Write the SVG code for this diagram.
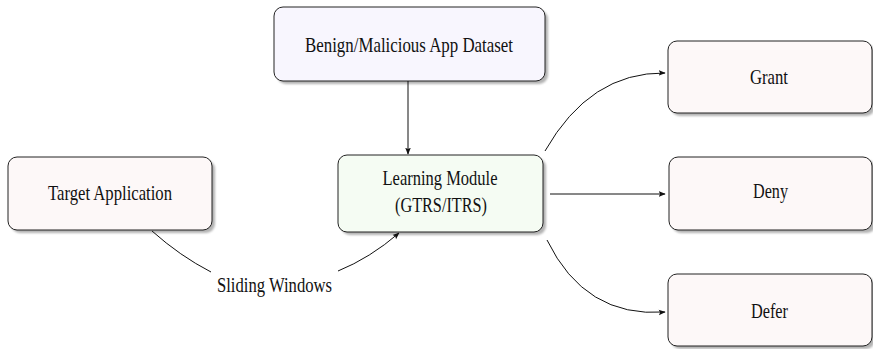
<svg xmlns="http://www.w3.org/2000/svg" width="873" height="349" viewBox="0 0 873 349">
  <style>
    .box { stroke: #222; stroke-width: 1; }
    .shadow { fill: #9a9a9a; opacity: 0.75; filter: url(#soft); }
    .label { font-family: "Liberation Serif", "DejaVu Serif", serif; font-size: 21px; fill: #111; text-anchor: middle; }
    .edge { fill: none; stroke: #111; stroke-width: 1; marker-end: url(#arrow); }
    .edge-plain { fill: none; stroke: #111; stroke-width: 1; }
  </style>
  <defs>
    <filter id="soft" x="-10%" y="-10%" width="120%" height="130%">
      <feGaussianBlur stdDeviation="1"/>
    </filter>
    <marker id="arrow" viewBox="0 0 10 10" refX="9" refY="5" markerWidth="7" markerHeight="7" markerUnits="userSpaceOnUse" orient="auto">
      <path d="M0,1 L10,5 L0,9 L2,5 Z" fill="#111"/>
    </marker>
  </defs>
  <rect width="873" height="349" fill="#ffffff"/>

  <!-- nodes (labels use a condensed serif via textLength) -->
  <g id="dataset">
    <rect class="shadow" x="277" y="10" width="271" height="74" rx="9"/>
    <rect class="box" x="274" y="7" width="271" height="74" rx="9" fill="#f8f6fe"/>
    <text class="label" x="409" y="51.5" textLength="208" lengthAdjust="spacingAndGlyphs">Benign/Malicious App Dataset</text>
  </g>
  <g id="learning">
    <rect class="shadow" x="341" y="158" width="205" height="77" rx="9"/>
    <rect class="box" x="338" y="155" width="205" height="77" rx="9" fill="#f5fcf3"/>
    <text class="label" x="440" y="185" textLength="115" lengthAdjust="spacingAndGlyphs">Learning Module</text>
    <text class="label" x="441" y="212" textLength="92" lengthAdjust="spacingAndGlyphs">(GTRS/ITRS)</text>
  </g>
  <g id="target">
    <rect class="shadow" x="11" y="160" width="204" height="73" rx="9"/>
    <rect class="box" x="8" y="157" width="204" height="73" rx="9" fill="#fdf8f8"/>
    <text class="label" x="110" y="200" textLength="124" lengthAdjust="spacingAndGlyphs">Target Application</text>
  </g>
  <g id="grant">
    <rect class="shadow" x="671" y="44" width="204" height="72" rx="9"/>
    <rect class="box" x="668" y="41" width="204" height="72" rx="9" fill="#fdf8f8"/>
    <text class="label" x="769" y="84" textLength="38" lengthAdjust="spacingAndGlyphs">Grant</text>
  </g>
  <g id="deny">
    <rect class="shadow" x="672" y="160" width="204" height="73" rx="9"/>
    <rect class="box" x="669" y="157" width="203" height="73" rx="9" fill="#fdf8f8"/>
    <text class="label" x="770.5" y="198" textLength="35" lengthAdjust="spacingAndGlyphs">Deny</text>
  </g>
  <g id="defer">
    <rect class="shadow" x="671" y="277" width="204" height="72" rx="9"/>
    <rect class="box" x="668" y="274" width="204" height="72" rx="9" fill="#fdf8f8"/>
    <text class="label" x="769.5" y="318" textLength="37" lengthAdjust="spacingAndGlyphs">Defer</text>
  </g>

  <!-- connectors -->
  <g id="connectors">
    <path class="edge" d="M408,81 L408,154"/>
    <path class="edge-plain" d="M152,231 Q180,256 211,272"/>
    <path class="edge" d="M338,271 Q370,258 399,233"/>
    <text class="label" x="274.5" y="292" textLength="115" lengthAdjust="spacingAndGlyphs">Sliding Windows</text>
    <path class="edge" d="M545,151 Q590,72 665,73"/>
    <path class="edge" d="M550,194 L665,194"/>
    <path class="edge" d="M547,240 Q585,318 665,312"/>
  </g>
</svg>
